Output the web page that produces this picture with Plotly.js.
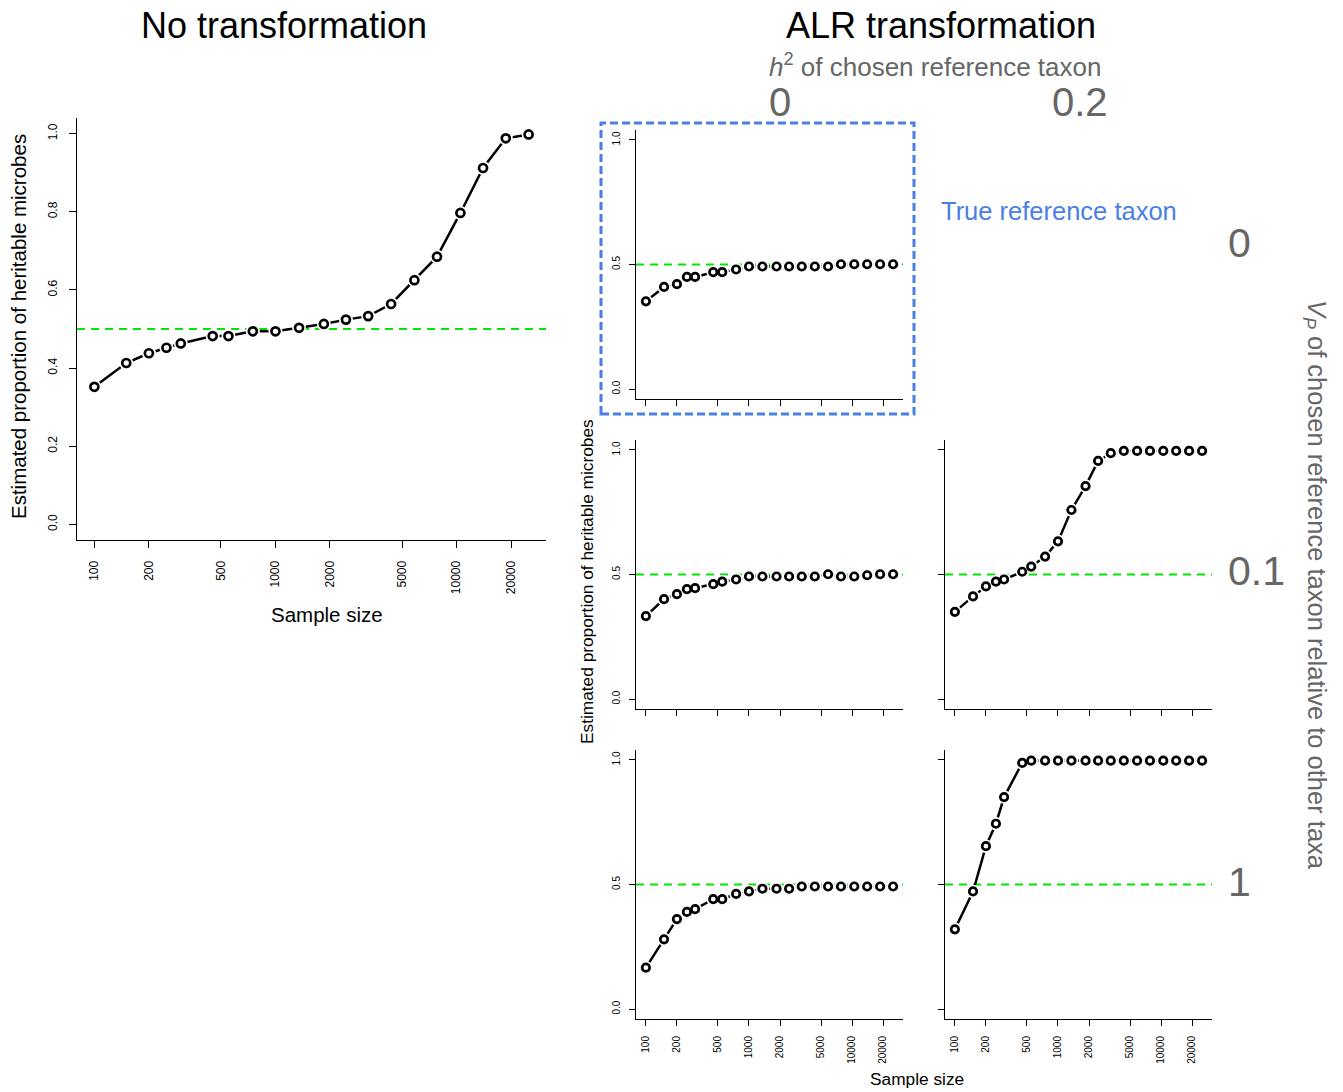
<!DOCTYPE html>
<html>
<head>
<meta charset="utf-8">
<script src="https://cdn.plot.ly/plotly-3.0.1.min.js"></script>
<style>html,body{margin:0;padding:0;background:#fff;}#chart{width:1343px;height:1092px;}</style>
</head>
<body>
<div id="chart"></div>
<script>
// ---------- data ----------
const sampleSizes = [100,150,200,250,300,450,550,750,1000,1350,1850,2450,3250,4350,5850,7800,10500,14000,18700,25000];
const noTransformation = [0.352,0.413,0.438,0.452,0.463,0.482,0.482,0.494,0.494,0.503,0.513,0.524,0.533,0.564,0.625,0.685,0.797,0.912,0.988,0.998];
const alrH0Vp0   = [0.352,0.410,0.421,0.450,0.450,0.469,0.469,0.480,0.492,0.492,0.492,0.492,0.492,0.492,0.492,0.501,0.501,0.501,0.501,0.501];
const alrH0Vp01  = [0.333,0.401,0.421,0.441,0.445,0.461,0.471,0.480,0.492,0.492,0.492,0.492,0.492,0.492,0.501,0.492,0.492,0.497,0.501,0.501];
const alrH02Vp01 = [0.350,0.412,0.452,0.471,0.480,0.511,0.532,0.572,0.633,0.759,0.855,0.956,0.987,0.996,0.996,0.996,0.996,0.996,0.996,0.996];
const alrH0Vp1   = [0.166,0.280,0.361,0.390,0.401,0.441,0.441,0.462,0.472,0.483,0.483,0.483,0.492,0.492,0.492,0.492,0.492,0.492,0.492,0.492];
const alrH02Vp1  = [0.320,0.472,0.654,0.744,0.851,0.988,0.997,0.997,0.997,0.997,0.997,0.997,0.997,0.997,0.997,0.997,0.997,0.997,0.997,0.997];
const trueProportion = 0.5;
const xTickVals = [100,200,500,1000,2000,5000,10000,20000];
const xTickText = ["100","200","500","1000","2000","5000","10000","20000"];
const yTickMain = [0,0.2,0.4,0.6,0.8,1.0];
const yTickMainText = ["0.0","0.2","0.4","0.6","0.8","1.0"];
const yTickSmall = [0,0.5,1.0];
const yTickSmallText = ["0.0","0.5","1.0"];
const colLabels = ["0","0.2"];
const rowLabels = ["0","0.1","1"];

// ---------- layout helpers ----------
const W = 1343, H = 1092;
const FONT = "Liberation Sans, Arial, Helvetica, sans-serif";
const GRAY = "#666666";
const BLUE = "#4a7fe3";
const GREEN = "#00e600";
function dX(a,b){return [a/W, b/W];}
function dY(t,b){return [1-b/H, 1-t/H];}
const lo = Math.log10(Math.min(...sampleSizes)), hi = Math.log10(Math.max(...sampleSizes));
const pad = 0.04*(hi-lo);
const xRange = [lo-pad, hi+pad];
const yRange = [-0.04, 1.04];

const panels = [
  {y: noTransformation, xd:[77,546],  yd:[118,540], xl:true,  yl:true,  main:true},
  {y: alrH0Vp0,   xd:[636,903],  yd:[130,399], xl:false, yl:true},
  {y: alrH0Vp01,  xd:[636,903],  yd:[440,709], xl:false, yl:true},
  {y: alrH02Vp01, xd:[945,1212], yd:[440,709], xl:false, yl:false},
  {y: alrH0Vp1,   xd:[636,903],  yd:[750,1019], xl:true,  yl:true},
  {y: alrH02Vp1,  xd:[945,1212], yd:[750,1019], xl:true,  yl:false}
];

const traces = [];
const layout = {
  width: W, height: H,
  margin: {l:0, r:0, t:0, b:0},
  paper_bgcolor: "#fff", plot_bgcolor: "rgba(0,0,0,0)",
  showlegend: false,
  font: {family: FONT, color: "#000"},
  shapes: [], annotations: []
};

panels.forEach((p, i) => {
  const n = i === 0 ? "" : String(i+1);
  const xa = "x"+n, ya = "y"+n;
  const tf = p.main ? 12 : 10;
  const ms = p.main ? 8 : 7.5;
  traces.push({x: sampleSizes, y: p.y, xaxis: xa, yaxis: ya, type: "scatter", mode: "lines",
    line: {color: "#000", width: 2.5}, hoverinfo: "skip"});
  traces.push({x: sampleSizes, y: p.y, xaxis: xa, yaxis: ya, type: "scatter", mode: "markers",
    marker: {color: "#fff", size: ms + 6, line: {width: 0}}, hoverinfo: "skip"});
  traces.push({x: sampleSizes, y: p.y, xaxis: xa, yaxis: ya, type: "scatter", mode: "markers",
    marker: {color: "#fff", size: ms, symbol: "circle", line: {color: "#000", width: 2.7}}});
  const xax = {
    domain: dX(p.xd[0], p.xd[1]), anchor: ya, type: "log", range: xRange,
    showline: true, linecolor: "#000", linewidth: 1, mirror: false,
    showgrid: false, zeroline: false,
    ticks: "outside", ticklen: p.main ? 7 : 6, tickwidth: 1, tickcolor: "#000",
    tickvals: xTickVals, showticklabels: p.xl, fixedrange: true
  };
  if (p.xl) {
    xax.ticktext = xTickText; xax.tickangle = -90; xax.ticklabelstandoff = p.main ? 8 : 6;
    xax.tickfont = {size: tf, family: FONT, color: "#000"};
  }
  layout["xaxis"+n] = xax;
  const yax = {
    domain: dY(p.yd[0], p.yd[1]), anchor: xa, range: yRange,
    showline: true, linecolor: "#000", linewidth: 1, mirror: false,
    showgrid: false, zeroline: false,
    ticks: "outside", ticklen: p.main ? 7 : 6, tickwidth: 1, tickcolor: "#000",
    tickvals: p.main ? yTickMain : yTickSmall, showticklabels: p.yl, fixedrange: true
  };
  if (p.yl) {
    yax.ticktext = p.main ? yTickMainText : yTickSmallText; yax.tickangle = -90;
    yax.ticklabelstandoff = p.main ? 7 : 5;
    yax.tickfont = {size: tf, family: FONT, color: "#000"};
  }
  layout["yaxis"+n] = yax;
  layout.shapes.push({type: "line", xref: xa+" domain", yref: ya, x0: 0, x1: 1,
    y0: trueProportion, y1: trueProportion, layer: "below",
    line: {color: GREEN, width: 2, dash: "8px,6px"}});
});

layout.shapes.push({type: "rect", xref: "paper", yref: "paper",
  x0: 601/W, x1: 914/W, y0: 1-414/H, y1: 1-123/H,
  line: {color: BLUE, width: 3, dash: "8px,4px"}, fillcolor: "rgba(0,0,0,0)", layer: "above"});

function ann(text, x, y, size, color, extra) {
  layout.annotations.push(Object.assign({text: text, x: x/W, y: 1-y/H, xref: "paper", yref: "paper",
    showarrow: false, font: {size: size, color: color, family: FONT},
    xanchor: "center", yanchor: "middle"}, extra || {}));
}
ann("No transformation", 284, 25, 36, "#000");
ann("ALR transformation", 941, 25, 36, "#000");
ann("<i>h</i><sup>2</sup> of chosen reference taxon", 935, 65, 26, GRAY);
ann(colLabels[0], 780, 102, 40, GRAY);
ann(colLabels[1], 1080, 102, 40, GRAY);
ann("True reference taxon", 1059, 211, 25.5, BLUE);
ann(rowLabels[0], 1226, 243, 41, GRAY, {xanchor: "left"});
ann(rowLabels[1], 1226, 571, 41, GRAY, {xanchor: "left"});
ann(rowLabels[2], 1226, 882, 41, GRAY, {xanchor: "left"});
ann("<i>V<sub>P</sub></i> of chosen reference taxon relative to other taxa", 1315, 585, 25.5, GRAY, {textangle: 90});
ann("Estimated proportion of heritable microbes", 18, 327, 20.5, "#000", {textangle: -90});
ann("Sample size", 327, 614, 20.5, "#000");
ann("Estimated proportion of heritable microbes", 587, 582, 17.3, "#000", {textangle: -90});
ann("Sample size", 917, 1079, 17.3, "#000");

Plotly.newPlot("chart", traces, layout, {displayModeBar: false, staticPlot: true});
</script>
</body>
</html>
